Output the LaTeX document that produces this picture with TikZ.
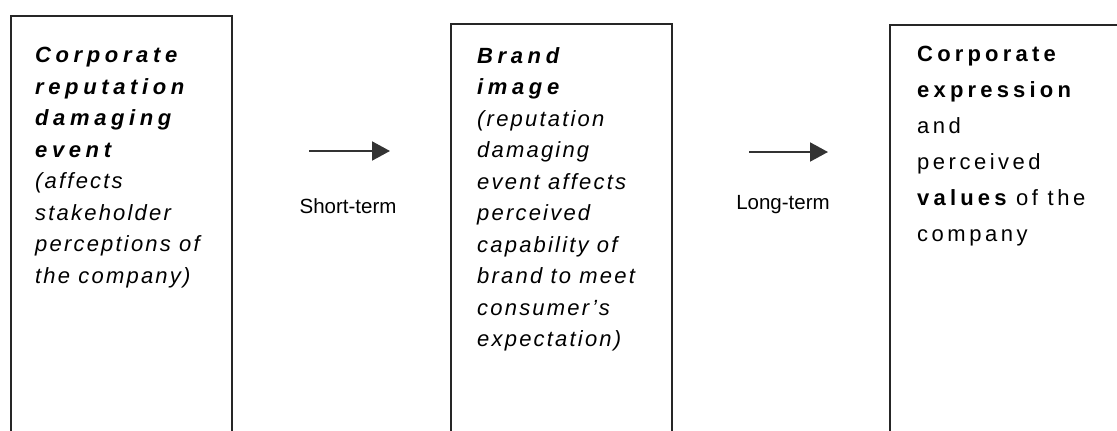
\documentclass[tikz,border=0pt]{standalone}
\usepackage{fontspec}
\setmainfont{Liberation Sans}
\newfontfamily\stagefont[LetterSpace=10]{Liberation Sans}
\newfontfamily\stageheadfont[LetterSpace=21]{Liberation Sans}
\newfontfamily\widestagefont[LetterSpace=16]{Liberation Sans}
\newfontfamily\wideheadfont[LetterSpace=19]{Liberation Sans}
\newcommand{\stagehead}[1]{{\stageheadfont\bfseries\itshape #1}}
\newcommand{\valuehead}[1]{{\wideheadfont\bfseries #1}}
\usetikzlibrary{arrows.meta,positioning}

\begin{document}
\begin{tikzpicture}[x=1pt,y=-1pt,>={Triangle[length=18pt,width=19pt]},
  stagebox/.style={draw=black!85,line width=1.6pt,minimum width=221pt,minimum height=440pt,anchor=north west,inner sep=0pt},
  stagetext/.style={anchor=north west,inner sep=0pt,align=left,font=\stagefont\fontsize{22}{31.5}\selectfont},
  termlabel/.style={inner sep=0pt,font=\fontsize{20.5}{24}\selectfont},
  termarrow/.style={->,draw=black!80,line width=2pt}]
\useasboundingbox (0,0) rectangle (1117,431);

% Node: event
\node[stagebox] (event) at (10,15) {};
\node[stagetext] (eventtext) at (35,47) {\stagehead{Corporate}\\
  \stagehead{reputation}\\
  \stagehead{damaging}\\
  \stagehead{event}\\
  \textit{(affects}\\
  \textit{stakeholder}\\
  \textit{perceptions of}\\
  \textit{the company)}};

% Node: image
\node[stagebox] (image) at (450,23) {};
\node[stagetext] (imagetext) at (477,47) {\stagehead{Brand}\\
  \stagehead{image}\\
  \textit{(reputation}\\
  \textit{damaging}\\
  \textit{event affects}\\
  \textit{perceived}\\
  \textit{capability of}\\
  \textit{brand to meet}\\
  \textit{consumer’s}\\
  \textit{expectation)}};

% Node: values
\node[stagebox,minimum width=260pt] (values) at (889,24) {};
\node[stagetext,font=\widestagefont\fontsize{22}{36}\selectfont] (valuestext) at (917,46) {\valuehead{Corporate}\\
  \valuehead{expression}\\
  and\\
  perceived\\
  \valuehead{values} of the\\
  company};

% Edge: event -> image
\coordinate (shortfrom) at (309,151);
\coordinate (shortto) at (390,151);
\draw[termarrow] (shortfrom) -- (shortto);
\node[termlabel] (shortlabel) at (348,206) {Short-term};

% Edge: image -> values
\coordinate (longfrom) at (749,152);
\coordinate (longto) at (828,152);
\draw[termarrow] (longfrom) -- (longto);
\node[termlabel] (longlabel) at (783,205) {Long-term};
%
\end{tikzpicture}
\end{document}
